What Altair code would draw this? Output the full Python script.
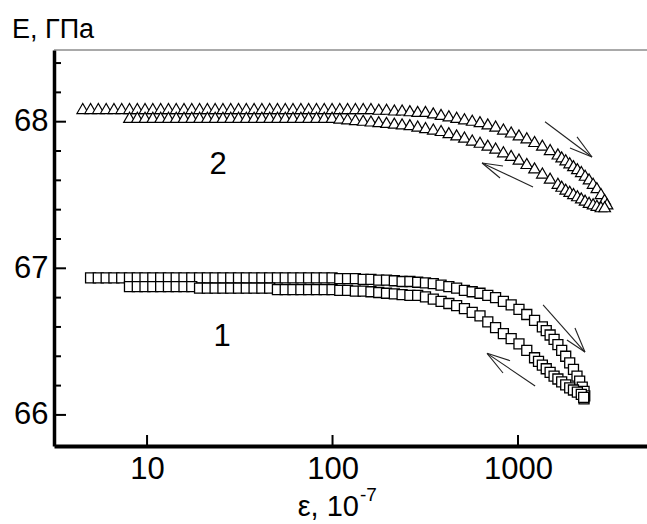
import altair as alt
import pandas as pd

FONT = "Liberation Sans, Arial, sans-serif"
FS = 31

# ---- curve 2 (triangles), loading branch ----
x2_up = [4.50, 4.96, 5.46, 6.02, 6.63, 7.30, 8.04, 8.86, 9.75, 10.74, 11.84, 13.04, 14.36, 15.82,
         17.42, 19.19, 21.14, 23.28, 25.65, 28.25, 31.12, 34.28, 37.76, 41.59, 45.81, 50.46, 55.6,
         61.2, 67.5, 74.3, 81.9, 90.2, 99.4, 109.4, 120.5, 132.8, 146.3, 161.1, 177.5, 195.5, 215.4,
         237.2, 261.3, 287.8, 317.1, 349.3, 384.7, 423.8, 466.8, 514.2, 566.4, 623.9, 687.3, 757.0,
         833.9, 918.6, 1012, 1115, 1228, 1353, 1490, 1641, 1720, 1808, 1900, 1991, 2090, 2194, 2300,
         2416, 2540, 2662, 2800, 2932, 3020]
y2_up = [68.09, 68.09, 68.09, 68.09, 68.09, 68.09, 68.09, 68.09, 68.09, 68.09, 68.09, 68.09, 68.09,
         68.09, 68.09, 68.09, 68.09, 68.09, 68.09, 68.09, 68.09, 68.09, 68.09, 68.09, 68.09, 68.09,
         68.09, 68.09, 68.09, 68.09, 68.09, 68.09, 68.09, 68.09, 68.09, 68.09, 68.09, 68.09, 68.085,
         68.085, 68.08, 68.08, 68.075, 68.07, 68.07, 68.06, 68.05, 68.04, 68.03, 68.02, 68.01, 68.00,
         67.985, 67.97, 67.95, 67.93, 67.91, 67.89, 67.865, 67.84, 67.81, 67.78, 67.76, 67.74, 67.72,
         67.70, 67.68, 67.66, 67.635, 67.61, 67.58, 67.55, 67.51, 67.47, 67.44]

# ---- curve 2 (triangles), unloading branch ----
x2_dn = [8.04, 8.86, 9.75, 10.74, 11.84, 13.04, 14.36, 15.82, 17.42, 19.19, 21.14, 23.28, 25.65,
         28.25, 31.12, 34.28, 37.76, 41.59, 45.81, 50.46, 55.6, 61.2, 67.5, 74.3, 81.9, 90.2, 99.4,
         109.4, 120.5, 132.8, 146.3, 161.1, 177.5, 195.5, 215.4, 237.2, 261.3, 287.8, 317.1, 349.3,
         384.7, 423.8, 466.8, 514.2, 566.4, 623.9, 687.3, 757.0, 833.9, 918.6, 1012, 1115, 1228, 1353,
         1490, 1641, 1720, 1808, 1900, 1991, 2090, 2194, 2300, 2416, 2540, 2662, 2800, 2932]
y2_dn = [68.03, 68.03, 68.03, 68.03, 68.03, 68.03, 68.03, 68.03, 68.03, 68.03, 68.03, 68.03, 68.03,
         68.03, 68.03, 68.03, 68.03, 68.03, 68.03, 68.03, 68.03, 68.03, 68.03, 68.03, 68.03, 68.03,
         68.03, 68.025, 68.02, 68.015, 68.01, 68.005, 68.00, 67.995, 67.99, 67.985, 67.98, 67.97,
         67.96, 67.95, 67.94, 67.925, 67.91, 67.895, 67.875, 67.86, 67.84, 67.82, 67.795, 67.77,
         67.745, 67.715, 67.685, 67.65, 67.615, 67.58, 67.56, 67.54, 67.525, 67.51, 67.495, 67.48,
         67.465, 67.45, 67.44, 67.43, 67.42, 67.42]

# ---- curve 1 (squares), loading branch ----
x1_up = [4.96, 5.46, 6.02, 6.63, 7.30, 8.04, 8.86, 9.75, 10.74, 11.84, 13.04, 14.36, 15.82, 17.42,
         19.19, 21.14, 23.28, 25.65, 28.25, 31.12, 34.28, 37.76, 41.59, 45.81, 50.46, 55.6, 61.2,
         67.5, 74.3, 81.9, 90.2, 99.4, 109.4, 120.5, 132.8, 146.3, 161.1, 177.5, 195.5, 215.4, 237.2,
         261.3, 287.8, 317.1, 349.3, 384.7, 423.8, 466.8, 514.2, 566.4, 623.9, 687.3, 757.0, 833.9,
         918.6, 1012, 1115, 1228, 1353, 1420, 1490, 1565, 1641, 1720, 1808, 1900, 1991, 2080, 2150,
         2220, 2270, 2290, 2270]
y1_up = [66.935, 66.935, 66.935, 66.935, 66.935, 66.935, 66.935, 66.935, 66.935, 66.935, 66.935,
         66.935, 66.935, 66.935, 66.935, 66.935, 66.935, 66.935, 66.935, 66.935, 66.935, 66.935,
         66.935, 66.935, 66.935, 66.935, 66.935, 66.935, 66.935, 66.935, 66.935, 66.935, 66.93,
         66.93, 66.93, 66.925, 66.925, 66.92, 66.92, 66.915, 66.91, 66.91, 66.905, 66.90, 66.895,
         66.885, 66.875, 66.865, 66.85, 66.84, 66.83, 66.815, 66.80, 66.775, 66.75, 66.72, 66.685,
         66.645, 66.60, 66.575, 66.545, 66.515, 66.48, 66.44, 66.40, 66.355, 66.31, 66.265, 66.23,
         66.19, 66.16, 66.13, 66.11]

# ---- curve 1 (squares), unloading branch ----
x1_dn = [8.04, 8.86, 9.75, 10.74, 11.84, 13.04, 14.36, 15.82, 17.42, 19.19, 21.14, 23.28, 25.65,
         28.25, 31.12, 34.28, 37.76, 41.59, 45.81, 50.46, 55.6, 61.2, 67.5, 74.3, 81.9, 90.2, 99.4,
         109.4, 120.5, 132.8, 146.3, 161.1, 177.5, 195.5, 215.4, 237.2, 261.3, 287.8, 317.1, 349.3,
         384.7, 423.8, 466.8, 514.2, 566.4, 623.9, 687.3, 757.0, 833.9, 918.6, 1012, 1115, 1228, 1290,
         1353, 1420, 1490, 1565, 1641, 1720, 1808, 1900, 1991, 2090, 2194, 2260]
y1_dn = [66.875, 66.875, 66.875, 66.875, 66.875, 66.875, 66.875, 66.875, 66.875, 66.865, 66.865,
         66.865, 66.865, 66.865, 66.865, 66.865, 66.865, 66.865, 66.865, 66.855, 66.855, 66.855,
         66.855, 66.855, 66.855, 66.855, 66.855, 66.85, 66.85, 66.845, 66.845, 66.84, 66.835, 66.83,
         66.825, 66.82, 66.815, 66.815, 66.805, 66.79, 66.775, 66.76, 66.745, 66.725, 66.70, 66.675,
         66.635, 66.595, 66.555, 66.52, 66.485, 66.44, 66.39, 66.365, 66.34, 66.315, 66.29, 66.265,
         66.245, 66.225, 66.205, 66.185, 66.17, 66.155, 66.14, 66.12]

# ---- axis ticks ----
x_tick_values = [10, 100, 1000]
y_major_ticks = [66, 67, 68]
y_minor_ticks = [66.2, 66.4, 66.6, 66.8, 67.2, 67.4, 67.6, 67.8, 68.2, 68.4]

# ---- arrows (tail, head, barb1, barb2) in data units ----
arrow_tail_x = [1398, 1205, 1365, 1237]
arrow_tail_y = [68.00, 67.555, 66.75, 66.197]
arrow_head_x = [2506, 640, 2296, 681]
arrow_head_y = [67.759, 67.718, 66.429, 66.42]
barb1_x = [2080, 830, 2028, 906]
barb1_y = [67.896, 67.698, 66.593, 66.37]
barb2_x = [1906, 800, 1836, 830]
barb2_y = [67.82, 67.616, 66.511, 66.286]

# ---- curve labels ----
curve_labels = ["2", "1"]
curve_label_x = [24.2, 25.4]
curve_label_y = [67.705, 66.53]

X_DOMAIN = [3.15, 4960]
Y_DOMAIN = [65.788, 68.489]
xs = alt.Scale(type="log", domain=X_DOMAIN, nice=False)
ys = alt.Scale(domain=Y_DOMAIN, nice=False, zero=False)

X_AX = alt.Axis(values=x_tick_values, format="d", ticks=False, tickSize=0, grid=False,
                domainColor="black", domainWidth=4, labelFont=FONT, labelFontSize=FS,
                labelColor="black", labelPadding=8, title=None)
Y_AX = alt.Axis(values=y_major_ticks, format="d", ticks=False, tickSize=0, grid=False,
                domainColor="black", domainWidth=3.5, labelFont=FONT, labelFontSize=FS,
                labelColor="black", labelPadding=6, title=None)

def X(f="x"):
    return alt.X(f"{f}:Q", scale=xs, axis=X_AX, title=None)

def Y(f="y"):
    return alt.Y(f"{f}:Q", scale=ys, axis=Y_AX, title=None)

tri = pd.concat([
    pd.DataFrame({"x": x2_up, "y": y2_up}),
    pd.DataFrame({"x": x2_dn, "y": y2_dn}),
])
sq = pd.concat([
    pd.DataFrame({"x": x1_up, "y": y1_up}),
    pd.DataFrame({"x": x1_dn, "y": y1_dn}),
])

tri_layer = alt.Chart(tri).mark_point(
    shape="triangle-up", size=135, fill="white", fillOpacity=1, stroke="black",
    strokeWidth=1.2, opacity=1).encode(x=X(), y=Y())

sq_layer = alt.Chart(sq).mark_point(
    shape="square", size=100, fill="white", fillOpacity=1, stroke="black",
    strokeWidth=1.3, opacity=1).encode(x=X(), y=Y())

segs = pd.DataFrame({
    "x": arrow_tail_x + arrow_head_x + arrow_head_x,
    "y": arrow_tail_y + arrow_head_y + arrow_head_y,
    "x2": arrow_head_x + barb1_x + barb2_x,
    "y2": arrow_head_y + barb1_y + barb2_y,
})
arrow_layer = alt.Chart(segs).mark_rule(color="#222", strokeWidth=1.1).encode(
    x=X(), y=Y(), x2="x2:Q", y2="y2:Q")

xt = pd.DataFrame({"x": x_tick_values})
xtick_layer = alt.Chart(xt).mark_rule(color="black", strokeWidth=2).encode(
    x=X(), y=alt.value(396), y2=alt.value(385))

ymaj = pd.DataFrame({"y": y_major_ticks})
ymaj_layer = alt.Chart(ymaj).mark_rule(color="black", strokeWidth=2).encode(
    y=Y(), x=alt.value(0), x2=alt.value(12))
ymin = pd.DataFrame({"y": y_minor_ticks})
ymin_layer = alt.Chart(ymin).mark_rule(color="black", strokeWidth=2).encode(
    y=Y(), x=alt.value(0), x2=alt.value(7))

one = pd.DataFrame({"a": [0]})
top_line = alt.Chart(one).mark_rule(color="#555", strokeWidth=1).encode(
    x=alt.value(0), x2=alt.value(593), y=alt.value(0))

lab = pd.DataFrame({"t": curve_labels, "x": curve_label_x, "y": curve_label_y})
label_layer = alt.Chart(lab).mark_text(font=FONT, fontSize=FS, color="black").encode(
    x=X(), y=Y(), text="t:N")

ytitle = alt.Chart(one).mark_text(font=FONT, fontSize=27, align="left", baseline="alphabetic",
                                  color="black", text="E, ГПа").encode(
    x=alt.value(-42), y=alt.value(-12))
xtitle = alt.Chart(one).mark_text(font=FONT, fontSize=29, align="right", baseline="alphabetic",
                                  color="black", text="ε, 10").encode(
    x=alt.value(305), y=alt.value(466))
xtitle_sup = alt.Chart(one).mark_text(font=FONT, fontSize=19, align="left", baseline="alphabetic",
                                      color="black", text="-7").encode(
    x=alt.value(306), y=alt.value(451))

chart = alt.layer(
    tri_layer, top_line, ymaj_layer, ymin_layer, xtick_layer,
    sq_layer, arrow_layer, label_layer, ytitle, xtitle, xtitle_sup
).properties(
    width=593, height=396,
    padding={"left": 54, "top": 50, "right": 0, "bottom": 78},
    autosize="none",
).configure_view(stroke=None)

chart.save("out.html", embed_options={"renderer": "svg", "actions": False})
